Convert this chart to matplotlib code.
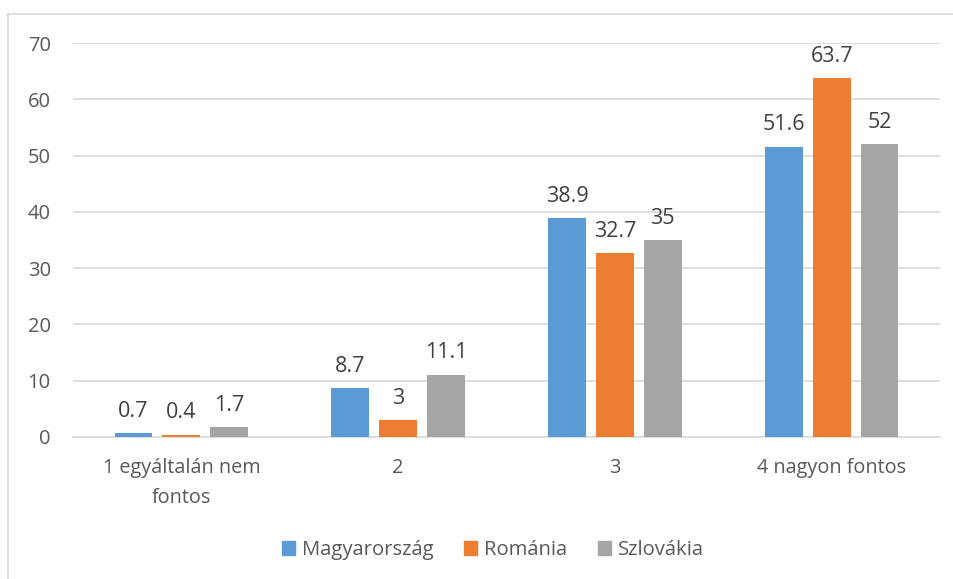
import numpy as np
import matplotlib
matplotlib.use("Agg")
import matplotlib.pyplot as plt
from matplotlib.lines import Line2D

# ---------------------- DATA ----------------------
categories = ["1 egyáltalán nem\nfontos", "2", "3", "4 nagyon fontos"]
series_names = ["Magyarország", "Románia", "Szlovákia"]
magyar = [0.7, 8.7, 38.9, 51.6]
romania = [0.4, 3, 32.7, 63.7]
szlovakia = [1.7, 11.1, 35, 52]
colors = ["#5B9BD5", "#ED7D31", "#A5A5A5"]

plt.rcParams["font.family"] = ["Open Sans", "DejaVu Sans"]

fig = plt.figure(figsize=(9.54, 5.79), dpi=100)
ax = fig.add_axes([73 / 954, 1 - 437 / 579, 867 / 954, 394 / 579])

x = np.arange(len(categories))
width = 0.175
step = 0.221

for i, (name, vals) in enumerate(zip(series_names, [magyar, romania, szlovakia])):
    pos = x + (i - 1) * step
    bars = ax.bar(pos, vals, width, color=colors[i], label=name, zorder=3)
    for b, v in zip(bars, vals):
        ax.text(b.get_x() + b.get_width() / 2, v + 2.0, f"{v:g}",
                ha="center", va="bottom", fontsize=15.5, color="#404040")

ax.set_xlim(-0.5, 3.5)
ax.set_ylim(0, 70)
ax.set_yticks(range(0, 71, 10))
ax.yaxis.grid(True, color="#D9D9D9", linewidth=1.2, zorder=0)
ax.set_xticks(x)
ax.set_xticklabels(categories, fontsize=14.3, color="#595959", linespacing=1.7)
ax.tick_params(axis="y", labelsize=14.5, labelcolor="#595959", length=0, pad=16)
ax.tick_params(axis="x", length=0, pad=15)
for s in ["top", "right", "left"]:
    ax.spines[s].set_visible(False)
ax.spines["bottom"].set_color("#D9D9D9")
ax.spines["bottom"].set_linewidth(1.2)

# chart border (light gray, only top/left visible in the picture)
fig.add_artist(Line2D([8.5 / 954, 8.5 / 954], [0, 1 - 13.5 / 579], color="#D9D9D9", lw=1.2))
fig.add_artist(Line2D([8.5 / 954, 1], [1 - 13.5 / 579, 1 - 13.5 / 579], color="#D9D9D9", lw=1.2))

handles = [plt.Rectangle((0, 0), 1, 1, color=c) for c in colors]
fig.legend(handles, series_names, loc="center", bbox_to_anchor=(493 / 954, 1 - 550 / 579),
           ncol=3, frameon=False, fontsize=14.6, handlelength=0.65, handleheight=0.65,
           handletextpad=0.35, columnspacing=1.5, labelcolor="#595959")

fig.savefig("out.png", dpi=100)
